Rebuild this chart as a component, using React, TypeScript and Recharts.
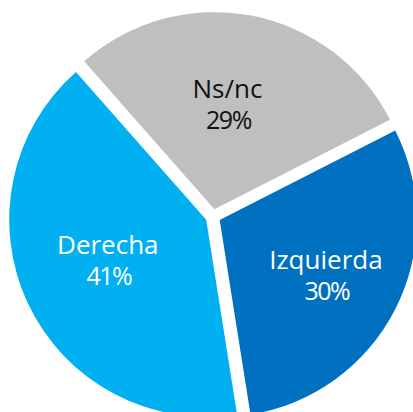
import React from 'react';
import { PieChart, Pie, Cell } from 'recharts';

const categories = ['Izquierda', 'Ns/nc', 'Derecha'];
const shares = [30, 29, 41];

const colors = ['#0070C0', '#BFBFBF', '#00B0F0'];
const labelColors = ['#FFFFFF', '#111111', '#FFFFFF'];
const labelRadius = [119, 107, 106];
const labelAngleShift = [0.2, 3.8, -3.4];

const data = categories.map((name, i) => ({ name, value: shares[i] }));

const START_ANGLE = -81;
const CX = 213;
const CY = 216.5;
const RADIUS = 197;
const EXPLODE = 7.5;
const RAD = Math.PI / 180;

const total = shares.reduce((a, b) => a + b, 0);
const midAngles: number[] = [];
{
  let acc = START_ANGLE;
  shares.forEach((v) => {
    const span = (v / total) * 360;
    midAngles.push(acc + span / 2);
    acc += span;
  });
}

const makeLabel = (i: number) => (props: any) => {
  if (props.index !== i) return null;
  const r = labelRadius[i];
  const a = props.midAngle + labelAngleShift[i];
  const x = props.cx + r * Math.cos(-a * RAD);
  const y = props.cy + r * Math.sin(-a * RAD);
  return (
    <g>
      <text
        x={x}
        y={y - 5}
        textAnchor="middle"
        fill={labelColors[i]}
        fontFamily="'Open Sans', sans-serif"
        fontSize={26}
      >
        {props.name}
      </text>
      <text
        x={x + 1}
        y={y + 26}
        textAnchor="middle"
        fill={labelColors[i]}
        fontFamily="'Open Sans', sans-serif"
        fontSize={25}
        letterSpacing={-1.5}
      >
        {`${props.value}%`}
      </text>
    </g>
  );
};

export default function App() {
  return (
    <div style={{ position: 'absolute', left: 0, top: 0, width: 413, height: 412, background: '#fff', overflow: 'hidden' }}>
      <PieChart width={413} height={412} margin={{ top: 0, right: 0, bottom: 0, left: 0 }}>
        {data.map((_, i) => (
          <Pie
            key={i}
            data={data}
            dataKey="value"
            nameKey="name"
            cx={CX + EXPLODE * Math.cos(midAngles[i] * RAD)}
            cy={CY - EXPLODE * Math.sin(midAngles[i] * RAD)}
            innerRadius={0}
            outerRadius={RADIUS}
            startAngle={START_ANGLE}
            endAngle={START_ANGLE + 360}
            stroke="none"
            labelLine={false}
            label={makeLabel(i)}
            isAnimationActive={false}
          >
            {data.map((__, j) => (
              <Cell key={j} fill={j === i ? colors[j] : 'none'} stroke="none" />
            ))}
          </Pie>
        ))}
      </PieChart>
    </div>
  );
}
